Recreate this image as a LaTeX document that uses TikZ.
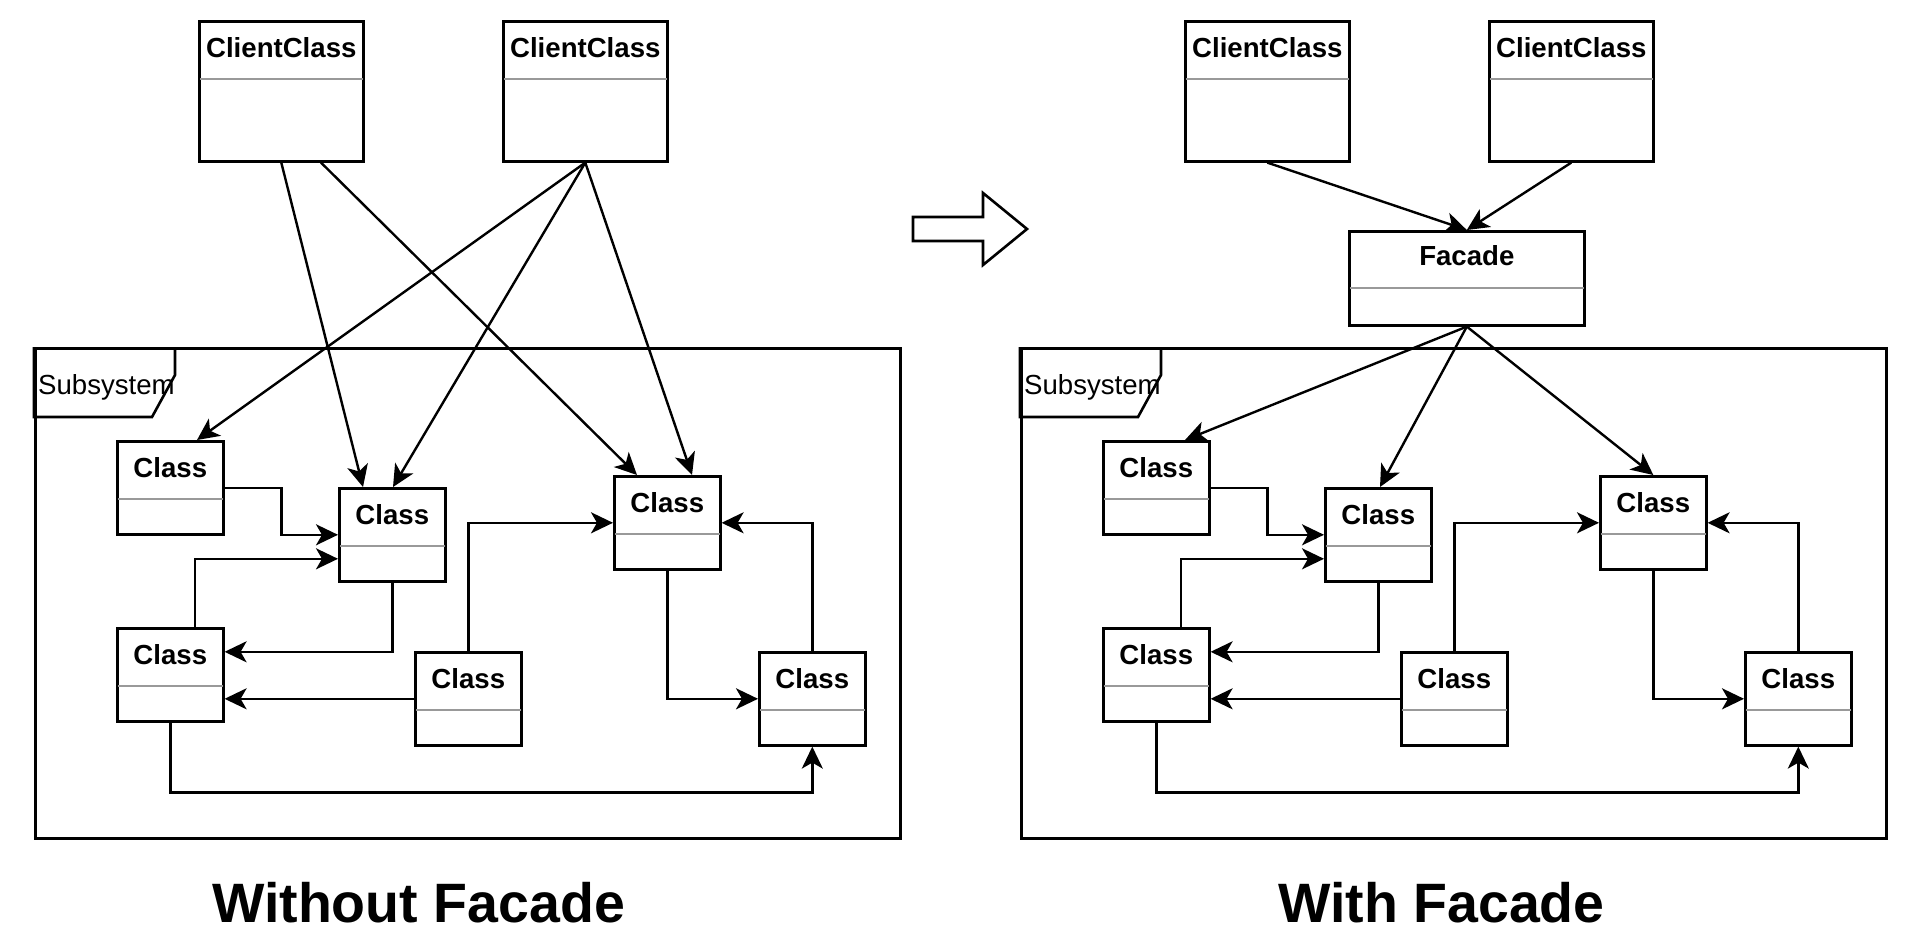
\documentclass[tikz,border=0pt]{standalone}
\usepackage{fontspec}
\setmainfont{Liberation Sans}
\usetikzlibrary{arrows.meta,calc}

% UML class box: name, x, y (top-left), width, height, title
\newcommand\umlcls[6]{%
  \node[clsbox, minimum width=#4pt, minimum height=#5pt] (#1) at (#2,#3) {};
  \draw[divline] ($(#1.north west)+(2,59)$) -- ($(#1.north east)+(-2,59)$);
  \node[clstitle] (#1t) at ($(#1.north)+(0,37)$) {#6};
}

% Subsystem frame with its six classes and their links; #1 = name suffix
\newcommand\subsys[1]{%
  \node[framebox] (sub#1) at (34,347) {};
  \draw[frameline] ($(sub#1.north west)+(141,0)$) -- ++(0,28) -- ++(-23,42) -| (sub#1.north west);
  \node[anchor=base west, inner sep=0pt, font=\fontsize{27.6}{32}\selectfont] (sublbl#1) at (38,394) {Subsystem};
  \umlcls{A#1}{116}{440}{106}{93}{Class}
  \umlcls{B#1}{338}{487}{106}{93}{Class}
  \umlcls{C#1}{613}{475}{106}{93}{Class}
  \umlcls{D#1}{414}{651}{106}{93}{Class}
  \umlcls{E#1}{758}{651}{106}{93}{Class}
  \umlcls{F#1}{116}{627}{106}{93}{Class}
  \draw[conn] (A#1.east) -| ($(A#1.east)!0.5!(B#1.west)$) |- (B#1.west);
  \draw[conn] ($(F#1.north west)+(79,0)$) |- ($(B#1.west)+(0,24)$);
  \draw[conn] (B#1.south) |- ($(F#1.east)+(0,-23)$);
  \draw[conn] (D#1.west) -- ($(F#1.east)+(0,24)$);
  \draw[conn] (D#1.north) |- (C#1.west);
  \draw[conn] (C#1.south) |- (E#1.west);
  \draw[conn] (E#1.north) |- (C#1.east);
  \draw[conn] (F#1.south) -- ++(0,70) -| (E#1.south);
}

\begin{document}
\begin{tikzpicture}[x=1pt,y=-1pt,
  clsbox/.style={draw, line width=2.6pt, fill=white, rectangle, inner sep=0pt,
    anchor=north west, minimum width=106pt, minimum height=93pt},
  divline/.style={draw=gray!80, line width=2.6pt},
  clstitle/.style={anchor=base, inner sep=0pt,
    font=\fontsize{27.6}{32}\selectfont\bfseries},
  conn/.style={line width=2.4pt, -{Stealth[length=22pt,width=21pt,inset=6pt]}},
  frameline/.style={line width=2.6pt, line join=miter},
  framebox/.style={draw, line width=2.6pt, rectangle, inner sep=0pt,
    anchor=north west, minimum width=865pt, minimum height=490pt},
  heading/.style={anchor=base, inner sep=0pt,
    font=\fontsize{55.5}{64}\selectfont\bfseries},
]
\useasboundingbox (0,0) rectangle (1916,948);

% ---------- without facade ----------
\subsys{}
\umlcls{CC1}{198}{20}{164}{140}{ClientClass}
\umlcls{CC2}{502}{20}{164}{140}{ClientClass}
\draw[conn] (CC1.south) -- ($(B.north west)+(25,0)$);
\draw[conn] ($(CC1.south west)+(123,0)$) -- ($(C.north west)+(24,0)$);
\draw[conn] (CC2.south) -- ($(A.north west)+(81,0)$);
\draw[conn] (CC2.south) -- ($(B.north west)+(55,0)$);
\draw[conn] (CC2.south) -- ($(C.north west)+(79,0)$);
\node[heading] (h1) at (418.5,922) {Without Facade};

% ---------- transition arrow ----------
\draw[frameline, fill=white] (913,217) -- (983,217) -- (983,193) -- (1027,229)
  -- (983,265) -- (983,241) -- (913,241) -- cycle;

% ---------- with facade ----------
\begin{scope}[xshift=986pt]
  \subsys{2}
\end{scope}
\umlcls{CC3}{1184}{20}{164}{140}{ClientClass}
\umlcls{CC4}{1488}{20}{164}{140}{ClientClass}
\node[clsbox, minimum width=235pt, minimum height=94pt] (Fac) at (1348,230) {};
\draw[divline] ($(Fac.north west)+(2,58)$) -- ($(Fac.north east)+(-2,58)$);
\node[clstitle] (Fact) at ($(Fac.north)+(0,35)$) {Facade};
\draw[conn] (CC3.south) -- (Fac.north);
\draw[conn] (CC4.south) -- (Fac.north);
\draw[conn] (Fac.south) -- ($(A2.north west)+(83,0)$);
\draw[conn] (Fac.south) -- ($(B2.north west)+(56,0)$);
\draw[conn] (Fac.south) -- (C2.north);
\node[heading] (h2) at (1441.5,922) {With Facade};
\end{tikzpicture}
\end{document}
